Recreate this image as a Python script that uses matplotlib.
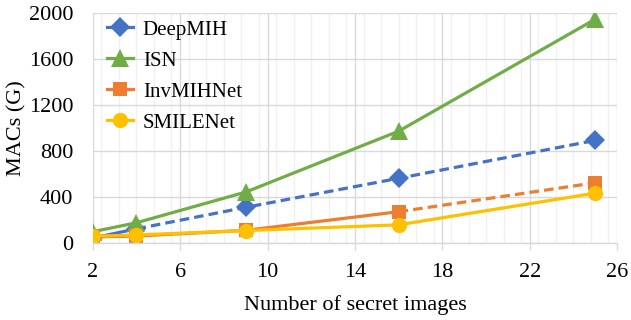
import matplotlib
matplotlib.use("Agg")
import matplotlib.pyplot as plt
from matplotlib.ticker import MultipleLocator
from matplotlib.lines import Line2D

x = [2, 4, 9, 16, 25]
deepmih = [45, 125, 312, 565, 895]
isn = [100, 178, 445, 975, 1950]
invmihnet = [55, 62, 112, 274, 526]
smilenet = [60, 72, 110, 160, 436]

# index where dashed (extrapolated) segment begins
deepmih_dash_from = 1
invmihnet_dash_from = 3

xticks = [2, 6, 10, 14, 18, 22, 26]
yticks = [0, 400, 800, 1200, 1600, 2000]

plt.rcParams['font.family'] = ['Liberation Serif', 'DejaVu Serif']

fig = plt.figure(figsize=(6.31, 3.2), dpi=100)
ax = fig.add_axes([0.147, 0.24, 0.831, 0.718])

C_BLUE = '#4472C4'
C_GREEN = '#70AD47'
C_ORANGE = '#ED7D31'
C_GOLD = '#FFC000'
lw = 2.3

def draw(vals, color, marker, dash_from, label, msize):
    if dash_from is None:
        ax.plot(x, vals, color=color, lw=lw)
    else:
        ax.plot(x[:dash_from + 1], vals[:dash_from + 1], color=color, lw=lw)
        ax.plot(x[dash_from:], vals[dash_from:], color=color, lw=lw,
                linestyle=(0, (3, 1.6)))
    ax.plot(x, vals, linestyle='none', marker=marker, color=color,
            markersize=msize, markeredgewidth=0)
    return Line2D([], [], color=color, lw=lw, marker=marker,
                  markersize=msize, markeredgewidth=0, label=label)

h1 = draw(deepmih, C_BLUE, 'D', deepmih_dash_from, 'DeepMIH', 10.5)
h2 = draw(isn, C_GREEN, '^', None, 'ISN', 12.5)
h3 = draw(invmihnet, C_ORANGE, 's', invmihnet_dash_from, 'InvMIHNet', 10)
h4 = draw(smilenet, C_GOLD, 'o', None, 'SMILENet', 11)

ax.set_xlim(2, 26)
ax.set_ylim(0, 2000)
ax.set_xticks(xticks)
ax.set_yticks(yticks)
ax.xaxis.set_minor_locator(MultipleLocator(0.8))
ax.grid(which='major', axis='both', color='#D9D9D9', lw=1.0, zorder=0)
ax.grid(which='minor', axis='x', color='#F0F0F0', lw=1.0, zorder=0)
ax.set_axisbelow(True)
for s in ['top', 'right', 'left']:
    ax.spines[s].set_visible(False)
ax.spines['bottom'].set_color('#D9D9D9')
ax.spines['bottom'].set_linewidth(1.0)
ax.tick_params(axis='x', which='major', length=5, color='#D9D9D9', width=1,
               labelsize=16, pad=9)
ax.tick_params(axis='x', which='minor', length=0)
ax.tick_params(axis='y', length=0, labelsize=16, pad=14)

ax.set_xlabel('Number of secret images', fontsize=16, labelpad=10)
ax.set_ylabel('MACs (G)', fontsize=16, labelpad=2)

leg = ax.legend(handles=[h1, h2, h3, h4], loc='upper left',
                bbox_to_anchor=(0.0, 1.035), frameon=False, fontsize=15,
                handlelength=1.25, labelspacing=0.55, handletextpad=0.45,
                borderaxespad=0.3)

fig.savefig('out.png', dpi=100)
